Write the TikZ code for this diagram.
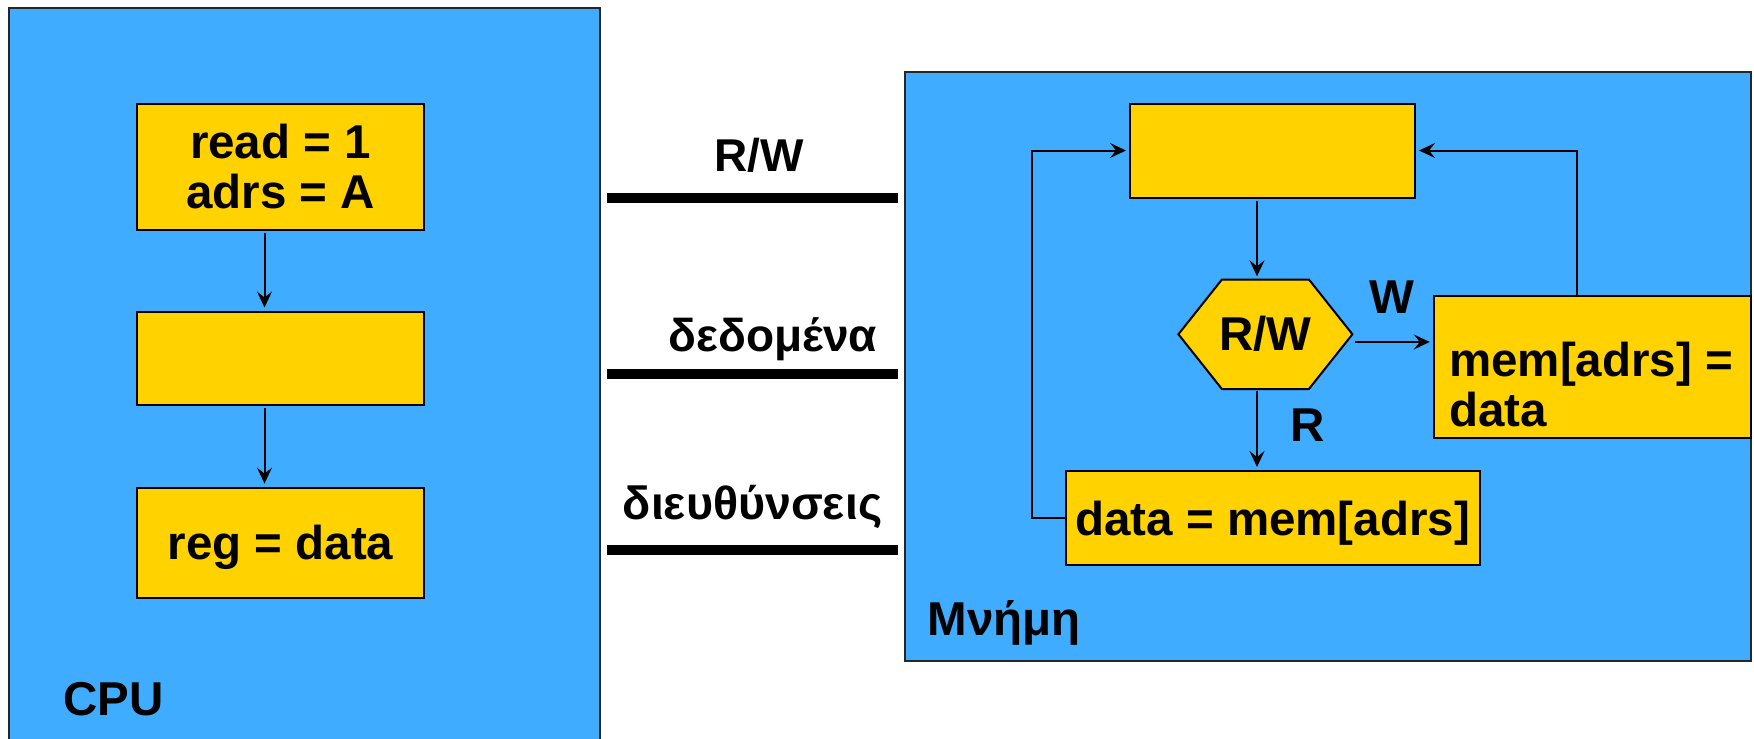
\documentclass[tikz,border=0pt]{standalone}
\usepackage{fontspec}
\setmainfont{Liberation Sans}
\usetikzlibrary{arrows.meta,calc}
\definecolor{panelblue}{RGB}{64,172,255}
\definecolor{stepyellow}{RGB}{255,210,0}
\begin{document}
\begin{tikzpicture}[x=1pt,y=-1pt,
  every node/.style={font=\fontsize{47.5}{49.5}\selectfont\bfseries, inner sep=0pt},
  panel/.style={draw=black!85, line width=2pt, fill=panelblue},
  stepbox/.style={draw=black, line width=2pt, fill=stepyellow, align=center},
  hexshape/.style={draw=black, line width=2pt, fill=stepyellow, line join=miter},
  arr/.style={line width=2pt, -{Stealth[length=16pt,width=15pt,inset=6pt]}, shorten >=3pt, shorten <=2pt},
  bus/.style={line width=10pt, shorten <=6pt, shorten >=6pt}]
\useasboundingbox (0,0) rectangle (1754,739);
\fill[white] (0,0) rectangle (1754,739);

% the two units
\node[panel, minimum width=591pt, minimum height=738pt] (cpu) at (304.5,377) {};
\node[panel, minimum width=846pt, minimum height=589pt] (mem) at (1328,366.5) {};

% CPU steps
\node[stepbox, minimum width=287pt, minimum height=125.5pt] (c1) at (280.5,166.75) {read = 1\\adrs = A};
\node[stepbox, minimum width=287pt, minimum height=93.5pt] (c2) at (280.5,358.25) {};
\node[stepbox, minimum width=287pt, minimum height=110pt, text depth=0pt] (c3) at (280.5,542.6) {reg = data};

% memory steps
\node[stepbox, minimum width=285pt, minimum height=94pt] (t) at (1272.5,150.5) {};
\coordinate (hc) at (1265.4,334.25);
\draw[hexshape] ($(hc)+(-87,0)$) -- ($(hc)+(-43.5,-54.75)$) -- ($(hc)+(43.5,-54.75)$)
  -- ($(hc)+(87,0)$) -- ($(hc)+(43.5,54.75)$) -- ($(hc)+(-43.5,54.75)$) -- cycle;
\node[minimum width=174pt, minimum height=109.5pt] (hex) at (hc) {R/W};
\node[stepbox, minimum width=413.8pt, minimum height=94.3pt, text depth=0pt] (d) at (1272.6,518.15) {data = mem[adrs]};
\node[stepbox, minimum width=317.2pt, minimum height=141.6pt] (w) at (1592.4,366.8) {};
\node[anchor=west, align=left] (wt) at ([xshift=16.2pt, yshift=-17.5pt]w.west) {mem[adrs] =\\data};

% CPU flow
\coordinate (cpuaxis) at (264.5,0);
\draw[arr] (c1.south -| cpuaxis) -- (c2.north -| cpuaxis);
\draw[arr] (c2.south -| cpuaxis) -- (c3.north -| cpuaxis);

% memory flow
\coordinate (memaxis) at (1257,0);
\draw[arr] (t.south -| memaxis) -- (hex.north -| memaxis);
\draw[arr] (hex.south -| memaxis) -- (d.north -| memaxis);
\draw[arr] ([yshift=-7.7pt]hex.east) -- ([yshift=-7.7pt]hex.east -| w.west);
\coordinate (loopL) at (1032.3,0);
\draw[arr, shorten <=0pt] (d.west) -- (d.west -| loopL) |- (t.west);
\coordinate (loopR) at (1577,0);
\draw[arr, shorten <=0pt] (w.north -| loopR) |- (t.east);

\node[anchor=base] (lblW) at (1391.7,313) {W};
\node[anchor=base] (lblR) at (1307.5,441.6) {R};

% bus lines
\coordinate (rw) at (0,198);
\coordinate (dat) at (0,374);
\coordinate (adr) at (0,550);
\draw[bus] (cpu.east |- rw) -- (mem.west |- rw);
\draw[bus] (cpu.east |- dat) -- (mem.west |- dat);
\draw[bus] (cpu.east |- adr) -- (mem.west |- adr);
\node[anchor=base, font=\fontsize{46}{49.5}\selectfont\bfseries] (busrw) at (759,171.7) {R/W};
\node[anchor=base, font=\fontsize{46}{49.5}\selectfont\bfseries] (busdata) at (773,351.7) {δεδομένα};
\node[anchor=base, font=\fontsize{46.5}{49.5}\selectfont\bfseries] (busadr) at (752.5,519) {διευθύνσεις};

% unit names
\node[anchor=base west] (cpulbl) at (63.3,715.4) {CPU};
\node[anchor=base west] (memlbl) at (927.4,635.3) {Μνήμη};
\end{tikzpicture}
\end{document}
